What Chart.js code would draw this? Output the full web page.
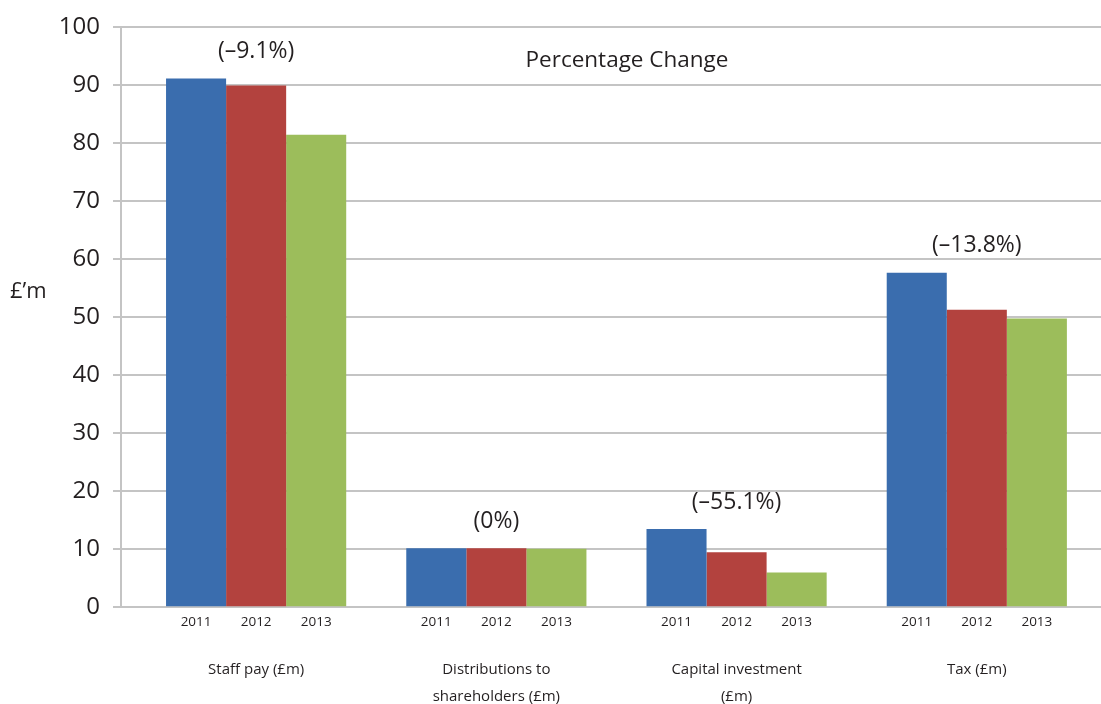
<!DOCTYPE html>
<html>
<head>
<meta charset="utf-8">
<script src="https://cdn.jsdelivr.net/npm/chart.js@4.4.1/dist/chart.umd.min.js"></script>
<style>
  html, body { margin: 0; padding: 0; background: #ffffff; }
  #wrap { width: 1101px; height: 704px; position: relative; }
</style>
</head>
<body>
<div id="wrap"><canvas id="chart"></canvas></div>
<script>
// Spending categories (multi-line labels as arrays of lines)
const categories = [
  ['Staff pay (£m)'],
  ['Distributions to', 'shareholders (£m)'],
  ['Capital investment', '(£m)'],
  ['Tax (£m)']
];
const years = ['2011', '2012', '2013'];
const values2011 = [91.2, 10.2, 13.5, 57.7];
const values2012 = [90.0, 10.2, 9.5, 51.3];
const values2013 = [81.5, 10.1, 6.0, 49.8];
const changeLabels = ['(–9.1%)', '(0%)', '(–55.1%)', '(–13.8%)'];
const yAxisTitle = '£’m';
const chartHeading = 'Percentage Change';

const FONT = '"Open Sans", "Noto Sans", sans-serif';
const INK = '#231f20';
const GRID = '#c4c4c4';

const seriesValues = [values2011, values2012, values2013];
const seriesColors = ['#3a6dae', '#b3423e', '#9cbd5b'];

const datasets = years.map((yr, k) => ({
  label: yr,
  data: seriesValues[k].map((v, i) => ({ x: i, y: v })),
  backgroundColor: seriesColors[k],
  borderWidth: 0,
  barPercentage: 1.0,
  categoryPercentage: 0.75
}));

// Year under each bar, change label above each group, heading and y title
const annotations = {
  id: 'annotations',
  afterDraw(chart) {
    const { ctx, chartArea, scales } = chart;
    ctx.save();
    ctx.fillStyle = INK;
    ctx.textAlign = 'center';
    ctx.textBaseline = 'middle';

    // years under bars
    ctx.font = '13.5px ' + FONT;
    chart.data.datasets.forEach((ds, k) => {
      const meta = chart.getDatasetMeta(k);
      meta.data.forEach(bar => {
        ctx.fillText(ds.label, bar.x, chartArea.bottom + 15);
      });
    });

    // percentage change above each group
    ctx.font = '23px ' + FONT;
    categories.forEach((c, i) => {
      let top = Infinity;
      chart.data.datasets.forEach((ds, k) => {
        const bar = chart.getDatasetMeta(k).data[i];
        top = Math.min(top, bar.y);
      });
      ctx.fillText(changeLabels[i], scales.x.getPixelForValue(i), top - 27);
    });

    // heading
    ctx.font = '22.5px ' + FONT;
    ctx.fillText(chartHeading, chartArea.left + 506, chartArea.top + 33);

    // y axis title
    ctx.textAlign = 'left';
    ctx.font = '22px ' + FONT;
    ctx.fillText(yAxisTitle, 10, scales.y.getPixelForValue(54.5));
    ctx.restore();
  }
};

new Chart(document.getElementById('chart'), {
  type: 'bar',
  data: { datasets },
  options: {
    responsive: true,
    maintainAspectRatio: false,
    animation: false,
    layout: { padding: { top: 23, right: 0, bottom: 0, left: 0 } },
    plugins: {
      legend: { display: false },
      tooltip: { enabled: false }
    },
    scales: {
      x: {
        type: 'linear',
        offset: false,
        min: -0.5625,
        max: 3.517,
        afterBuildTicks(scale) {
          scale.ticks = categories.map((c, i) => ({ value: i }));
        },
        afterFit(scale) { scale.height = 96.7; },
        grid: { display: false, drawTicks: false },
        border: { display: true, color: GRID, width: 2 },
        ticks: {
          padding: 49,
          color: INK,
          font: { family: FONT, size: 15, lineHeight: '27px' },
          maxRotation: 0,
          autoSkip: false,
          callback: (v) => categories[v]
        }
      },
      y: {
        min: 0,
        max: 100,
        afterFit(scale) { scale.width = 121; },
        grid: { color: GRID, lineWidth: 2, drawTicks: true, tickLength: 8 },
        border: { display: true, color: GRID, width: 2 },
        ticks: {
          stepSize: 10,
          padding: 13,
          color: INK,
          font: { family: FONT, size: 24 }
        }
      }
    }
  },
  plugins: [annotations]
});
</script>
</body>
</html>
